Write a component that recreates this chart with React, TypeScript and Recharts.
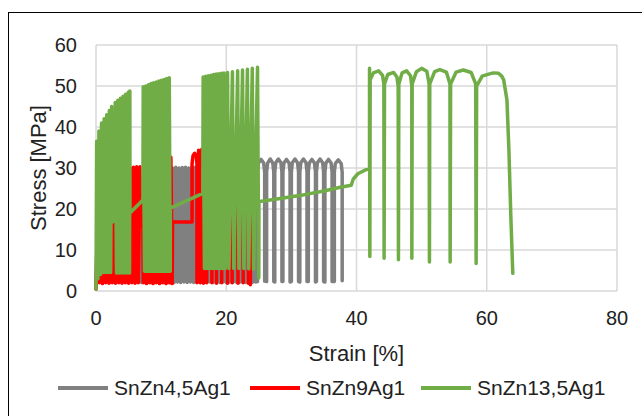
import { LineChart, Line, XAxis, YAxis, CartesianGrid } from "recharts";

// strain [%], stress [MPa] pairs, drawn in test order
const grayDense: [number, number][] = [
  [0,0.5],[0.25,20],[0.5,2.2],[0.75,22],[1,2.1],[1.25,23],[1.5,2.2],[1.75,24],[2,2.1],[2.25,24.5],
  [2.5,2.2],[2.75,25],[3,2.1],[3.25,25.5],[3.5,2.2],[3.75,26],[4,2.1],[4.25,26],[4.5,2.2],[4.75,26.5],
  [5,2.1],[5.25,26.5],[5.5,2.2],[5.75,27],[6,2.1],[6.25,27],[6.5,2.2],[6.75,27],[7,2.1],[7.25,27.5],
  [7.5,2.2],[7.75,28],[8,2.1],[8.25,28.5],[8.5,2.2],[8.75,29],[9,2.1],[9.25,29.5],[9.5,2.2],[9.75,29.8],
  [10,2.1],[10.25,30],[10.5,2.2],[10.75,30],[11,2.1],[11.25,30.1],[11.5,2.2],[11.75,30],[12,2.1],[12.25,30.2],
  [12.5,2.2],[12.75,30],[13,2.1],[13.25,30.1],[13.5,2.2],[13.75,30.2],[14,2.1],[14.25,30],[14.5,2.2],[14.75,30.1],
  [15,2.1],[15.25,30.2],[15.5,2.2],[15.75,30],[16,2.1],[16.25,30.1],[16.5,2.2],[16.75,30.2],[17,2.1],[17.25,30],
  [17.5,2.2],[17.75,30.1],[18,2.1],[18.25,30.2],[18.5,2.2],[18.75,30],[19,2.1],[19.25,30.1],[19.5,2.2],[19.75,30.2],
  [20,2.1],[20.25,30],[20.5,2.2],[20.75,30.1],[21,2.1],[21.25,30.2],[21.5,2.2],[21.75,30],[22,2.1],[22.25,30.1],
  [22.5,2.2],[22.75,30.2],[23,2.1],[23.25,30],[23.5,2.2],[23.75,30.1],[24,2.1],[24.25,30.2],[24.5,2.2],
];

const grayLoops: [number, number][] = [
  [24.8,2.3],[24.8,29],[24.95,31.2],[25.35,32.1],[25.75,31.2],[25.9,29],[25.9,2.4],
  [26.2,2.3],[26.2,29],[26.35,31.2],[26.75,32.2],[27.15,31.2],[27.3,29],[27.3,2.3],
  [27.45,2.2],[27.45,29],[27.6,31.3],[28,32.2],[28.4,31.3],[28.55,29],[28.55,2.3],
  [28.7,2.3],[28.7,29],[28.85,31.2],[29.25,32.1],[29.65,31.2],[29.8,29],[29.8,2.2],
  [30,2.3],[30,29],[30.15,31.3],[30.55,32.2],[30.95,31.3],[31.1,29],[31.1,2.3],
  [31.3,2.2],[31.3,29],[31.45,31.3],[31.85,32.2],[32.25,31.3],[32.4,29],[32.4,2.3],
  [32.6,2.3],[32.6,29],[32.75,31.2],[33.15,32.1],[33.55,31.2],[33.7,29],[33.7,2.2],
  [33.85,2.3],[33.85,29],[34,31.3],[34.4,32.2],[34.8,31.3],[34.95,29],[34.95,2.3],
  [35.15,2.2],[35.15,29],[35.3,31.2],[35.7,32.1],[36.1,31.2],[36.25,29],[36.25,2.3],
  [36.6,2.3],[36.6,29],[36.75,31.1],[37.2,32],[37.65,31.1],[37.8,29],[37.8,2.5],
];

const redBlock1: [number, number][] = [
  [0,0.5],[0.25,18],[0.5,2],[0.75,21],[1,1.8],[1.25,23],[1.5,2],[1.75,25],[2,1.9],[2.25,26.5],
  [2.5,2],[2.75,27.5],[3,1.9],[3.25,28],[3.5,2],[3.75,28.5],[4,1.9],[4.25,29],[4.5,2],[4.75,29.5],
  [5,1.9],[5.25,30],[5.5,2],[5.75,30.2],[6,1.9],[6.25,30.3],[6.5,2],[6.75,30.3],[6.85,15.8],[7.2,15.8],
];

const redBlock3: [number, number][] = [
  [7.25,2],[7.5,31],[7.75,1.8],[8,31.2],[8.25,2],[8.5,31.5],[8.75,1.8],[9,31.6],[9.25,2],[9.5,31.8],
  [9.75,1.8],[10,32],[10.25,2],[10.5,32.1],[10.75,1.8],[11,32.3],[11.25,2],[11.5,32.6],[11.7,1.8],[11.75,16.8],
];

const redBlock4: [number, number][] = [
  [14.75,16.8],[14.75,31],[14.9,33],[15.15,33.6],[15.4,33],[15.5,31],[15.5,2],
  [15.75,34.3],[16,2],[16.25,34.6],[16.5,1.9],[16.75,34.8],[17,2],[17.02,34.8],
  [17.8,34.9],[17.8,2],[17.82,34.8],[18.5,34.9],[18.5,1.9],[18.52,34.8],[19.3,34.9],[19.3,2],[19.32,34.8],
  [20.2,34.9],[20.2,1.9],[20.22,34.8],[20.9,34.9],[20.9,2],[20.92,34.8],[21.8,34.9],[21.8,1.9],[21.82,34.8],
  [22.6,34.9],[22.6,2],[22.62,34.8],[23.4,34.8],[23.4,1.9],[23.42,34.7],[23.7,34.6],[23.7,1.5],
];

const greenBlock1: [number, number][] = [
  [0,0.5],[0.1,36.5],[0.3,3],[0.45,39],[0.7,4],[0.85,41],[1.1,4.5],[1.25,42],[1.5,4.5],[1.65,43],
  [1.9,4.5],[2.05,44],[2.25,4.5],[2.4,45],[2.5,16.8],
];

const greenBlock2: [number, number][] = [
  [2.9,17.3],[2.95,46],[3.15,4.4],[3.35,46.5],[3.55,4.4],[3.75,47],[3.95,4.4],[4.15,47.5],[4.35,4.4],
  [4.55,48],[4.75,4.4],[4.95,48.5],[5.15,4.4],[5.2,48.8],[5.22,19],
];

const greenBlock3: [number, number][] = [
  [7.2,22.2],[7.25,49.8],[7.45,4.8],[7.65,50],[7.85,4.8],[8.05,50.3],[8.25,4.8],[8.45,50.6],[8.65,4.8],
  [8.85,50.8],[9.05,4.8],[9.25,51],[9.45,4.8],[9.65,51.2],[9.85,4.8],[10.05,51.4],[10.25,4.8],[10.45,51.6],
  [10.65,4.8],[10.85,51.8],[11.05,4.8],[11.25,52],[11.4,4.8],[11.42,20.2],
];

const greenBlock4: [number, number][] = [
  [16.4,23.8],[16.45,52.2],[16.65,5.5],[16.85,52.4],[17.05,5.5],[17.25,52.5],[17.45,5.5],[17.65,52.6],
  [17.85,5.5],[18.05,52.8],[18.25,5.5],[18.45,52.9],[18.65,5.5],[18.85,53],[19.05,5.5],[19.25,53.1],
  [19.45,5.5],[19.65,53.2],[19.85,5.5],[20.2,53.3],[20.4,5.5],[20.95,53.5],[21.15,5.5],[21.75,53.7],
  [21.95,5.5],[22.5,53.9],[22.7,5.5],[23.25,54.1],[23.45,5.4],[24,54.3],[24.2,5.3],[24.8,54.6],[25,3.2],
];

const greenCreep: [number, number][] = [
  [25.02,21.8],[28,22.5],[32,23.5],[35,24.4],[37.5,25.3],[39.2,25.8],[39.5,27.3],[40.2,28.6],[41.2,29.4],[42,29.9],
];

const greenBlock5: [number, number][] = [
  [42,54.3],[42.05,8.4],[42.1,51.5],[42.6,53.2],[43.4,53.7],[44,52.6],[44.2,50.5],[44.24,8],
  [44.3,50.5],[44.8,52.8],[45.7,53.3],[46.2,52.2],[46.4,50],[46.44,7.6],
  [46.5,50.5],[47,53.2],[47.7,53.7],[48.3,52.5],[48.49,50],[48.5,8],
  [48.55,50.5],[49.2,53.5],[50,54.3],[50.8,53.6],[51.15,50.5],[51.2,7.1],
  [51.25,50.5],[52,53.5],[52.8,54],[53.8,53.4],[54.35,50.5],[54.38,7.1],
  [54.45,50.5],[55.3,53.4],[56.4,53.9],[57.6,53.3],[58.3,50.5],[58.37,6.7],
  [58.45,50],[58.7,50.7],[59.3,52.4],[60.3,52.9],[61,53.2],[61.8,53.1],[62.3,52.4],[62.6,51.5],
  [63.1,46.6],[63.4,34.4],[63.7,18.1],[64,4.3],
];

const xTicks = [0, 20, 40, 60, 80];
const yTicks = [0, 10, 20, 30, 40, 50, 60];

const toPts = (...parts: [number, number][][]) =>
  parts.flat().map(([x, y]) => ({ x, y }));

const gray = toPts(grayDense, grayLoops);
const red = toPts(redBlock1, redBlock3, redBlock4);
const green = toPts(greenBlock1, greenBlock2, greenBlock3, greenBlock4, greenCreep, greenBlock5);

const font = "'Liberation Sans', Arial, sans-serif";
const legendItems = [
  { name: "SnZn4,5Ag1", color: "#808080", left: 49 },
  { name: "SnZn9Ag1", color: "#ff0000", left: 241 },
  { name: "SnZn13,5Ag1", color: "#70ad47", left: 412 },
];

export default function App() {
  return (
    <div style={{ position: "fixed", left: 8, top: 12, width: 700, height: 450, border: "1px solid #000", background: "#fff", fontFamily: font }}>
      <LineChart width={634} height={420} margin={{ top: 32, right: 26, left: 0, bottom: 102 }}>
        <CartesianGrid stroke="#d9d9d9" strokeWidth={1.5} />
        <XAxis type="number" dataKey="x" domain={[0, 80]} ticks={xTicks} height={40}
          axisLine={false} tickLine={false} tickSize={0} tickMargin={20}
          tick={{ fill: "#222", fontSize: 20, fontFamily: font }}
          label={{ value: "Strain [%]", position: "bottom", offset: 14, fill: "#222", fontSize: 22, fontFamily: font }} />
        <YAxis type="number" domain={[0, 60]} ticks={yTicks} width={87}
          axisLine={false} tickLine={false} tickSize={0} tickMargin={19}
          tick={{ fill: "#222", fontSize: 20, fontFamily: font }}
          label={{ value: "Stress [MPa]", angle: -90, position: "insideLeft", offset: 29, fill: "#222", fontSize: 22, fontFamily: font, style: { textAnchor: "middle" } }} />
        <Line data={gray} dataKey="y" stroke="#808080" strokeWidth={3.5} dot={false} activeDot={false} strokeLinejoin="round" strokeLinecap="round" isAnimationActive={false} />
        <Line data={red} dataKey="y" stroke="#ff0000" strokeWidth={3.5} dot={false} activeDot={false} strokeLinejoin="round" strokeLinecap="round" isAnimationActive={false} />
        <Line data={green} dataKey="y" stroke="#70ad47" strokeWidth={3.5} dot={false} activeDot={false} strokeLinejoin="round" strokeLinecap="round" isAnimationActive={false} />
      </LineChart>
      {legendItems.map((it) => (
        <div key={it.name} style={{ position: "absolute", left: it.left, top: 363, height: 24, display: "flex", alignItems: "center", fontSize: 21, color: "#222", whiteSpace: "nowrap" }}>
          <span style={{ display: "inline-block", width: 50, height: 3.5, background: it.color, marginRight: 6 }} />
          {it.name}
        </div>
      ))}
    </div>
  );
}
